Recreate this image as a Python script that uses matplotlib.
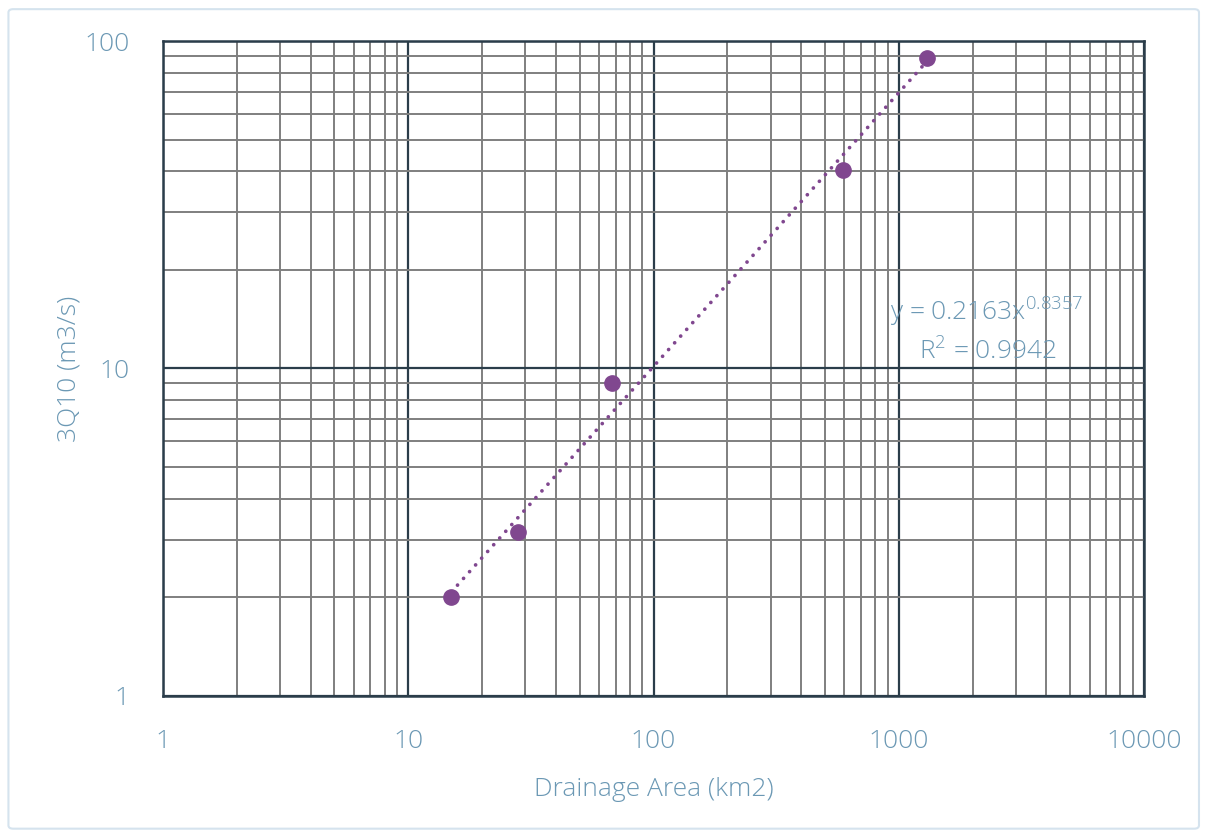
import numpy as np
import matplotlib.pyplot as plt
from matplotlib.patches import FancyBboxPatch
from matplotlib.ticker import LogLocator, FixedLocator, NullFormatter

# Drainage area vs 3Q10 data
area_km2 = [15, 28, 68, 590, 1300]
q_3q10 = [2.0, 3.17, 9.0, 40.5, 89.0]

# Power trendline reported on chart
coef_a = 0.2163
coef_b = 0.8357
r_squared = 0.9942

txt_color = '#6b98b4'
purple = '#80478f'
major_col = '#2b3d4a'
minor_col = '#7f7f7f'

plt.rcParams['font.family'] = ['Open Sans', 'DejaVu Sans']
plt.rcParams['font.weight'] = 'light'
plt.rcParams['axes.labelweight'] = 'light'
plt.rcParams['mathtext.default'] = 'regular'

fig = plt.figure(figsize=(12.05, 8.32), dpi=100)
fig.patches.append(FancyBboxPatch((0.007, 0.004), 0.988, 0.985, boxstyle='round,pad=0,rounding_size=0.004',
                                  transform=fig.transFigure, fill=False, edgecolor='#d5e3ee', linewidth=1.5))

ax = fig.add_axes([0.1353, 0.1635, 0.8141, 0.7872])
ax.set_xscale('log')
ax.set_yscale('log')
ax.set_xlim(1, 10000)
ax.set_ylim(1, 100)

# Gridlines
ax.xaxis.set_minor_locator(LogLocator(base=10, subs=np.arange(2, 10)))
ax.yaxis.set_minor_locator(LogLocator(base=10, subs=np.arange(2, 10)))
ax.xaxis.set_minor_formatter(NullFormatter())
ax.yaxis.set_minor_formatter(NullFormatter())
ax.xaxis.set_major_locator(FixedLocator([1, 10, 100, 1000, 10000]))
ax.yaxis.set_major_locator(FixedLocator([1, 10, 100]))
ax.set_xticklabels(['1', '10', '100', '1000', '10000'])
ax.set_yticklabels(['1', '10', '100'])
ax.grid(True, which='minor', color=minor_col, linewidth=1.4, zorder=0)
ax.grid(True, which='major', color=major_col, linewidth=1.6, zorder=1)
ax.set_axisbelow(True)
for s in ax.spines.values():
    s.set_color(major_col)
    s.set_linewidth(1.8)

ax.tick_params(which='both', length=0)
ax.tick_params(axis='y', pad=24, labelsize=19, labelcolor=txt_color)
ax.tick_params(axis='x', pad=24, labelsize=19, labelcolor=txt_color)

# Trendline
xt = np.logspace(np.log10(min(area_km2)), np.log10(max(area_km2)), 200)
ax.plot(xt, coef_a * xt ** coef_b, linestyle=(0, (0.01, 2.4)), dash_capstyle='round',
        color=purple, linewidth=2.7, zorder=3)

# Points
ax.plot(area_km2, q_3q10, 'o', color=purple, markersize=11, zorder=4)

ax.text(0.938, 0.585, 'y = 0.2163x$^{0.8357}$', transform=ax.transAxes, ha='right', va='center',
        fontsize=19, color=txt_color, zorder=5)
ax.text(0.911, 0.525, 'R$^{2}$ = 0.9942', transform=ax.transAxes, ha='right', va='center',
        fontsize=19, color=txt_color, zorder=5)

ax.set_xlabel('Drainage Area (km2)', fontsize=19, color=txt_color, labelpad=16)
ax.set_ylabel('3Q10 (m3/s)', fontsize=19, color=txt_color, labelpad=2)

plt.savefig('out.png', dpi=100)
